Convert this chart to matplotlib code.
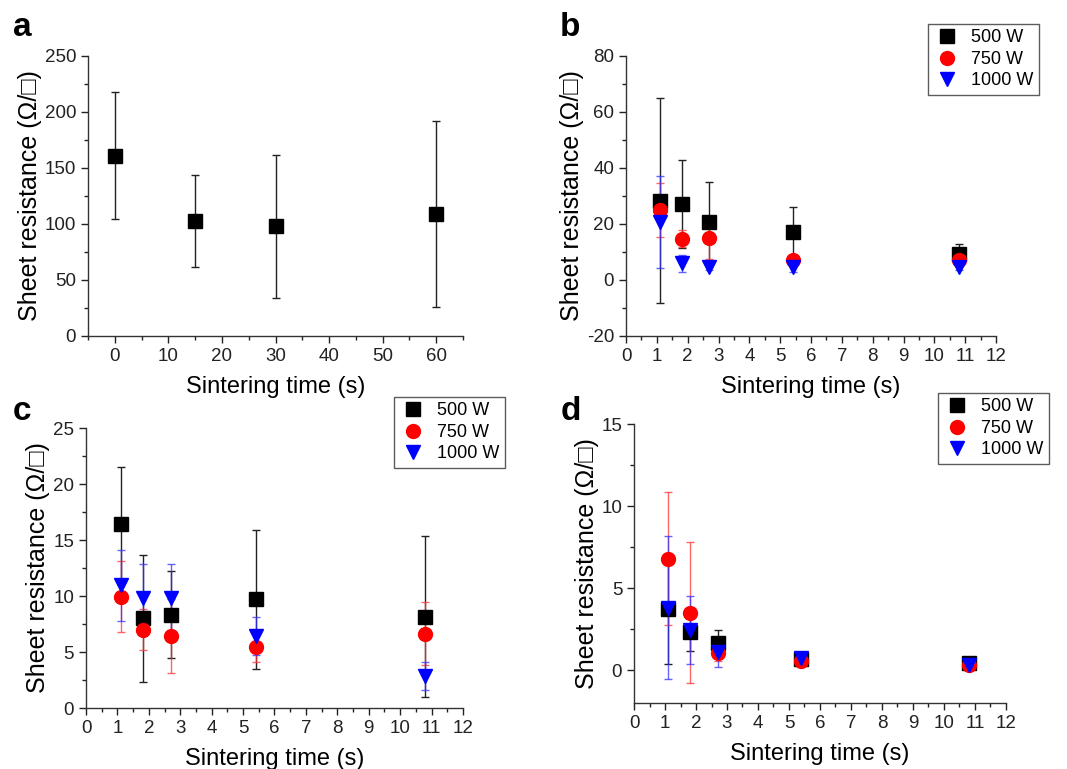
import matplotlib
matplotlib.use("Agg")
import matplotlib.pyplot as plt
from matplotlib.ticker import MultipleLocator

plt.rcParams['font.family'] = ['Liberation Sans', 'DejaVu Sans']
plt.rcParams['axes.unicode_minus'] = False

# panel a
a_time = [0, 15, 30, 60]
a_res = [161, 103, 98, 109]
a_err = [57, 41, 64, 83]

# panels b, c, d share the same sintering times
times = [1.1, 1.8, 2.7, 5.4, 10.8]
powers = ['500 W', '750 W', '1000 W']

b_res = [[28.3, 27.1, 20.8, 17.0, 9.4],
         [25.0, 14.7, 15.0, 7.1, 7.1],
         [20.8, 5.9, 4.7, 4.7, 4.7]]
b_err = [[36.7, 15.6, 14.2, 9.0, 3.5],
         [9.5, 3.0, 7.5, 1.0, 2.0],
         [16.5, 3.0, 1.0, 2.0, 1.0]]

c_res = [[16.4, 8.0, 8.35, 9.7, 8.15],
         [9.95, 7.0, 6.45, 5.45, 6.65],
         [10.95, 9.8, 9.8, 6.4, 2.85]]
c_err = [[5.1, 5.7, 3.9, 6.2, 7.2],
         [3.2, 1.8, 3.3, 1.35, 2.8],
         [3.2, 3.1, 3.1, 1.7, 1.25]]

d_res = [[3.7, 2.35, 1.63, 0.7, 0.45],
         [6.8, 3.5, 1.05, 0.55, 0.3],
         [3.8, 2.45, 1.12, 0.72, 0.32]]
d_err = [[3.3, 1.2, 0.8, 0.3, 0.15],
         [4.05, 4.3, 0.5, 0.15, 0.1],
         [4.35, 2.1, 0.9, 0.35, 0.3]]

colors = ['black', 'red', 'blue']
err_colors = ['#222222', (1, 0.2, 0.2, 0.75), (0.2, 0.2, 1, 0.75)]
markers = ['s', 'o', 'v']
ylabel = 'Sheet resistance (\u03a9/\u25a1)'
xlabel = 'Sintering time (s)'

fig = plt.figure(figsize=(10.67, 7.69), dpi=100)
ax_a = fig.add_axes([0.0825, 0.5631, 0.3515, 0.3641])
ax_b = fig.add_axes([0.5867, 0.5631, 0.3468, 0.3641])
ax_c = fig.add_axes([0.0806, 0.0793, 0.3533, 0.3641])
ax_d = fig.add_axes([0.5942, 0.0858, 0.3486, 0.3628])


def style(ax, xmaj, ymaj):
    for s in ['top', 'right']:
        ax.spines[s].set_visible(False)
    for s in ['left', 'bottom']:
        ax.spines[s].set_linewidth(1.0)
        ax.spines[s].set_color('#333333')
    ax.xaxis.set_major_locator(MultipleLocator(xmaj))
    ax.xaxis.set_minor_locator(MultipleLocator(xmaj / 2))
    ax.yaxis.set_major_locator(MultipleLocator(ymaj))
    ax.yaxis.set_minor_locator(MultipleLocator(ymaj / 2))
    ax.tick_params(which='major', direction='out', length=5, width=1,
                   labelsize=13.5, colors='#222222')
    ax.tick_params(which='minor', direction='out', length=3, width=1,
                   colors='#222222')
    ax.set_xlabel(xlabel, fontsize=17, labelpad=8)
    ax.set_ylabel(ylabel, fontsize=18, labelpad=2)


ax_a.errorbar(a_time, a_res, yerr=a_err, fmt='s', color='black', ms=10,
              ecolor='#222222', elinewidth=1, capsize=3)
ax_a.set_xlim(-5, 65)
ax_a.set_ylim(0, 250)
style(ax_a, 10, 50)


def power_panel(ax, res, err, ylim):
    for i in range(3):
        ax.errorbar(times, res[i], yerr=err[i], fmt=markers[i],
                    color=colors[i], ms=10, ecolor=err_colors[i],
                    elinewidth=1, capsize=3, label=powers[i])
    ax.set_xlim(0, 12)
    ax.set_ylim(*ylim)


power_panel(ax_b, b_res, b_err, (-20, 80))
style(ax_b, 1, 20)
power_panel(ax_c, c_res, c_err, (0, 25))
style(ax_c, 1, 5)
power_panel(ax_d, d_res, d_err, (-2, 15))
style(ax_d, 1, 5)
ax_d.set_yticks([0, 5, 10, 15])

legend_pos = {ax_b: (0.8697, 0.9688), ax_c: (0.3693, 0.4837),
              ax_d: (0.8791, 0.489)}
for ax, (lx, ly) in legend_pos.items():
    h, l = ax.get_legend_handles_labels()
    h = [hh[0] for hh in h]
    leg = fig.legend(h, l, loc='upper left', bbox_to_anchor=(lx, ly),
                     borderaxespad=0, fontsize=13, frameon=True,
                     fancybox=False, edgecolor='#333333', handletextpad=0.6,
                     borderpad=0.3, labelspacing=0.25, handlelength=1.5)
    leg.get_frame().set_linewidth(1.0)

for txt, x, y in [('a', 0.012, 0.985), ('b', 0.525, 0.985),
                  ('c', 0.012, 0.485), ('d', 0.525, 0.485)]:
    fig.text(x, y, txt, fontsize=24, fontweight='bold', va='top', ha='left')

fig.savefig('out.png', dpi=100)
